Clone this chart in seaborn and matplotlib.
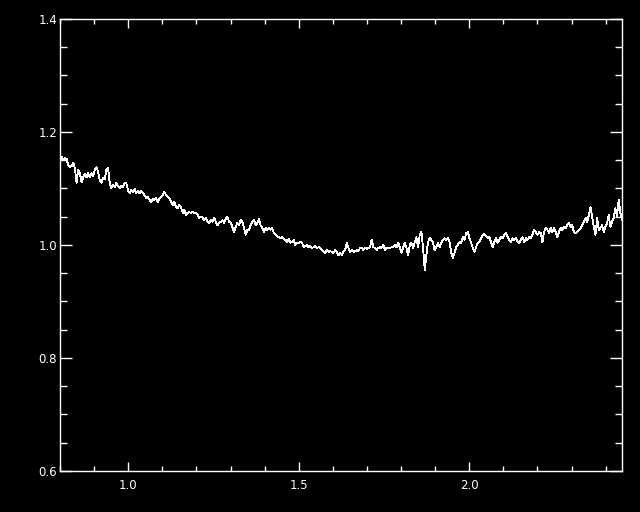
import numpy as np
import pandas as pd
import seaborn as sns
import matplotlib.pyplot as plt
from matplotlib.ticker import MultipleLocator

wave_min = 0.80
wave_max = 2.448
flux = [
    1.150, 1.156, 1.150, 1.154, 1.152, 1.141, 1.138, 1.140, 1.145, 1.136,
    1.110, 1.133, 1.127, 1.111, 1.120, 1.126, 1.120, 1.127, 1.120, 1.127,
    1.122, 1.133, 1.138, 1.129, 1.115, 1.110, 1.119, 1.117, 1.133, 1.136,
    1.110, 1.101, 1.106, 1.103, 1.110, 1.104, 1.101, 1.104, 1.103, 1.110,
    1.110, 1.097, 1.092, 1.097, 1.094, 1.099, 1.092, 1.095, 1.092, 1.095,
    1.092, 1.088, 1.083, 1.085, 1.080, 1.076, 1.081, 1.080, 1.083,
    1.076, 1.083, 1.085, 1.088, 1.094, 1.088, 1.085, 1.083, 1.076, 1.071,
    1.076, 1.067, 1.065, 1.071, 1.067, 1.057, 1.062, 1.053, 1.057, 1.058,
    1.057, 1.058, 1.057, 1.057, 1.053, 1.048, 1.050, 1.048, 1.044, 1.048,
    1.041, 1.039, 1.044, 1.041, 1.048, 1.041, 1.035, 1.039, 1.041, 1.044,
    1.039, 1.046, 1.050, 1.041, 1.039, 1.032, 1.023, 1.032, 1.039, 1.035,
    1.044, 1.041, 1.030, 1.018, 1.027,
    1.027, 1.035, 1.041, 1.044, 1.035, 1.039, 1.046, 1.035, 1.030, 1.023,
    1.030, 1.027, 1.030, 1.027, 1.030, 1.021, 1.018, 1.016, 1.014, 1.012,
    1.014, 1.011, 1.009, 1.005, 1.011, 1.004, 1.005, 1.009, 1.000, 1.004,
    1.004, 1.005, 1.004, 0.996, 0.998, 1.000, 0.996, 0.998, 0.995, 0.996,
    0.998, 0.995, 0.996, 0.995, 0.991, 0.988, 0.986, 0.991, 0.988, 0.989,
    0.988, 0.986, 0.991, 0.988, 0.982, 0.986, 0.982,
    0.988, 0.991, 1.004, 0.995, 0.988, 0.991, 0.988, 0.989, 0.991, 0.989,
    0.995, 0.995, 0.991, 0.995, 0.993, 0.995, 0.996, 1.009, 0.996, 0.995,
    0.991, 0.995, 0.996, 0.995, 1.000, 0.991, 0.995, 0.995, 0.995, 0.996,
    0.996, 1.000, 0.996, 1.004, 0.995, 0.986, 0.996, 1.004, 0.995, 0.982,
    1.000, 1.004, 0.995, 1.005, 1.014, 0.996, 1.018, 1.023, 0.995, 0.956,
    0.982, 1.005, 1.012, 1.009, 1.004, 0.991, 0.996,
    1.004, 0.996, 1.004, 1.009, 1.012, 1.009, 1.012, 1.005, 0.986, 0.977,
    0.986, 0.996, 1.000, 1.005, 1.004, 1.014, 1.009, 1.021, 1.023, 1.012,
    1.004, 0.995, 0.988, 0.996, 1.004, 1.005, 1.012, 1.018, 1.019, 1.016,
    1.012, 1.014, 1.005, 0.996, 1.005, 1.012, 1.004, 1.009, 1.014, 1.012,
    1.018, 1.021, 1.014, 1.009, 1.005, 1.012, 1.009, 1.012, 1.005, 1.004,
    1.009, 1.014, 1.005, 1.012, 1.009, 1.014, 1.012,
    1.018, 1.027, 1.023, 1.018, 1.023, 1.021, 1.005, 1.023, 1.030, 1.027,
    1.021, 1.030, 1.023, 1.030, 1.023, 1.014, 1.023, 1.030, 1.027, 1.032,
    1.030, 1.035, 1.039, 1.032, 1.035, 1.023, 1.021, 1.023, 1.027, 1.030,
    1.035, 1.041, 1.048, 1.041, 1.053, 1.067, 1.050, 1.032, 1.018, 1.048,
    1.027, 1.030, 1.035, 1.023, 1.032, 1.039, 1.053, 1.032, 1.041, 1.048,
    1.065, 1.050, 1.080, 1.057, 1.044,
]
x_limits = (0.80, 2.448)
y_limits = (0.6, 1.4)

df = pd.DataFrame({
    'wave': np.linspace(wave_min, wave_max, len(flux)),
    'flux': flux,
})

sns.set_theme(style='ticks', rc={
    'figure.facecolor': 'black',
    'axes.facecolor': 'black',
    'axes.edgecolor': 'white',
    'axes.linewidth': 1.0,
    'xtick.color': 'white',
    'ytick.color': 'white',
    'text.color': 'white',
    'axes.grid': False,
})
plt.rcParams['font.family'] = ['DejaVu Sans']

fig = plt.figure(figsize=(6.4, 5.12), dpi=100)
ax = fig.add_axes([0.09375, 0.0801, 0.8781, 0.8828])

sns.lineplot(data=df, x='wave', y='flux', color='white', linewidth=0.6,
             estimator=None, sort=False, antialiased=False, ax=ax)

ax.set_xlim(*x_limits)
ax.set_ylim(*y_limits)
ax.set_xlabel('')
ax.set_ylabel('')

ax.xaxis.set_major_locator(MultipleLocator(0.5))
ax.xaxis.set_minor_locator(MultipleLocator(0.1))
ax.yaxis.set_major_locator(MultipleLocator(0.2))
ax.yaxis.set_minor_locator(MultipleLocator(0.05))
ax.xaxis.set_major_formatter(plt.FormatStrFormatter('%.1f'))
ax.yaxis.set_major_formatter(plt.FormatStrFormatter('%.1f'))

ax.tick_params(axis='both', which='both', direction='in', top=True, right=True,
               colors='white', labelsize=8.5, width=1.0)
ax.tick_params(axis='x', which='major', length=6.5, pad=6)
ax.tick_params(axis='x', which='minor', length=3.6)
ax.tick_params(axis='y', which='major', length=8.5, pad=2)
ax.tick_params(axis='y', which='minor', length=5)

for spine in ax.spines.values():
    spine.set_color('white')
    spine.set_visible(True)

fig.savefig('out.png', dpi=100, facecolor='black')
